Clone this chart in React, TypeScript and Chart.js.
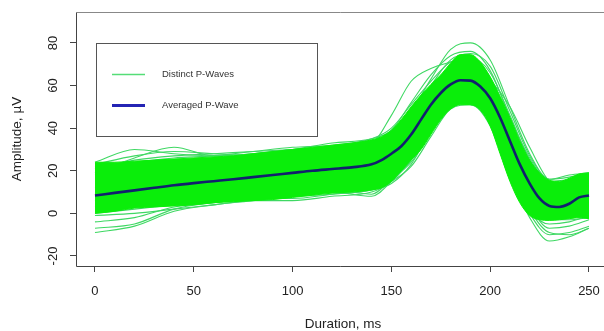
import React, { useEffect, useRef } from "react";
import { Chart, registerables } from "chart.js";

Chart.register(...registerables);

// ---- tick labels ----
const xTicks = [0, 50, 100, 150, 200, 250];
const yTicks = [-20, 0, 20, 40, 60, 80];

// ---- dense band of distinct P-waves (envelope) ----
const envX = [0, 10, 20, 30, 40, 50, 60, 70, 80, 90, 100, 110, 120, 130, 140, 145, 150, 155, 160, 165, 170, 175, 180, 185, 190, 195, 200, 205, 210, 215, 220, 225, 230, 235, 240, 245, 250];
const bandUpper = [24, 24, 24.5, 25, 25.5, 26, 26.5, 27, 28, 29, 30, 31, 32, 33, 34.5, 36, 39, 44, 50, 55.5, 60.5, 65, 70.5, 74.5, 74.5, 71, 64, 55, 45, 34, 25, 19, 15.5, 15, 16.5, 18.5, 19];
const bandLower = [0, 1, 2.5, 3, 3.5, 4, 5, 5.5, 6, 6.5, 7.5, 8.5, 9.5, 10, 11, 12, 15, 20, 25, 30, 37, 44, 49, 51, 51, 48.5, 41, 28, 15, 5, -1, -3, -3.3, -3, -2.5, -2, -2.5];

// ---- averaged P-wave ----
const avgWave = [8.4, 9.6, 10.8, 12, 13.2, 14.2, 15.1, 16, 17, 18, 19, 20, 20.8, 21.6, 23, 25, 28, 31.5, 37, 44, 51, 56.5, 60.5, 62.5, 62.3, 59.5, 54, 45, 34, 23, 14, 7, 3.5, 3, 4.5, 7.5, 8.4];

// ---- individual distinct P-waves (visible outside the dense band) ----
const waveX = [0, 20, 40, 60, 80, 100, 120, 140, 150, 160, 170, 180, 190, 200, 210, 220, 230, 240, 250];
const wave1 = [-9, -6, 1, 4, 6, 8, 10, 8, 15, 25, 40, 51, 53, 45, 20, 0, -10, -9, -6];
const wave2 = [-7, -5, 2, 5, 7, 9, 11, 9, 16, 24, 38, 50, 52, 43, 18, -2, -13, -11, -7];
const wave3 = [-4, -2, 3, 5, 7, 8, 9, 11, 14, 23, 39, 53, 56, 49, 25, 4, -7, -6, -3];
const wave4 = [-1, 0, 2, 4, 6, 6, 8, 10, 15, 26, 44, 56, 57, 47, 23, 2, -5, -4, -1];
const wave5 = [21, 25, 27, 28, 29, 30, 31, 33, 46, 62, 68, 71, 73, 66, 46, 25, 14, 15, 17];
const wave6 = [19, 26, 31, 27, 28, 30, 31, 33, 37, 48, 63, 77, 80, 72, 50, 28, 16, 17, 19];
const wave7 = [24, 30, 28, 27, 28, 30, 33, 35, 39, 52, 65, 74, 76, 67, 45, 26, 15, 16, 18];
const wave8 = [22, 24, 26, 27, 29, 31, 32, 35, 40, 51, 62, 71, 73, 64, 43, 24, 14, 14, 16];
const wave9 = [1, 3, 5, 6, 7, 7, 9, 11, 15, 22, 36, 49, 51, 41, 16, 0, -3, -3, -2];
const wave10 = [18, 21, 23, 24, 25, 27, 29, 31, 35, 44, 57, 67, 69, 59, 37, 18, 11, 13, 16];
const wave11 = [6, 9, 11, 13, 14, 16, 18, 20, 24, 33, 45, 52, 51, 47, 33, 14, 4, 4, 6];
const wave12 = [10, 12, 14, 16, 18, 20, 22, 24, 28, 36, 49, 59, 65, 62, 50, 31, 15, 12, 12];
const wave13 = [0, 2, 4, 6, 8, 9, 10, 12, 16, 26, 41, 53, 56, 47, 24, 2, -9, -10, -7];
const wave14 = [12, 14, 15, 17, 19, 20, 22, 24, 29, 38, 51, 61, 63, 56, 34, 14, 4, 7, 9];
const wave15 = [23, 27, 29, 28, 27, 28, 30, 32, 36, 47, 60, 72, 75, 69, 48, 27, 16, 18, 19];
const wave16 = [3, 6, 8, 9, 8, 9, 11, 13, 17, 27, 42, 55, 58, 52, 29, 8, -1, 0, 2];
const distinctWaves = [wave1, wave2, wave3, wave4, wave5, wave6, wave7, wave8, wave9, wave10, wave11, wave12, wave13, wave14, wave15, wave16];

const legendLabels = ["Distinct P-Waves", "Averaged P-Wave"];
const xTitle = "Duration, ms";
const yTitle = "Amplitude, \u00B5V";

const GREEN_BAND = "#0aee0a";
const GREEN_LINE = "#3fd863";
const BLUE = "#12206e";
const FONT = '"Liberation Sans", Arial, Helvetica, sans-serif';

const toPts = (xs: number[], ys: number[]) => xs.map((x, i) => ({ x, y: ys[i] }));

const decorPlugin = {
  id: "decor",
  afterDraw(chart: any) {
    const { ctx, chartArea: a, scales } = chart;
    ctx.save();
    // box (right side falls outside the picture)
    const L = Math.round(a.left) + 0.5;
    const T = Math.round(a.top) + 0.5;
    const B = Math.round(a.bottom) + 0.5;
    ctx.lineWidth = 1;
    ctx.strokeStyle = "#888";
    ctx.beginPath();
    ctx.moveTo(L, T);
    ctx.lineTo(chart.width, T);
    ctx.stroke();
    ctx.strokeStyle = "#444";
    ctx.beginPath();
    ctx.moveTo(L, T);
    ctx.lineTo(L, B);
    ctx.lineTo(chart.width, B);
    ctx.stroke();

    // tick labels
    ctx.fillStyle = "#222";
    ctx.font = `13px ${FONT}`;
    ctx.textAlign = "center";
    ctx.textBaseline = "middle";
    yTicks.forEach((v) => {
      const y = scales.y.getPixelForValue(v);
      ctx.save();
      ctx.translate(53, y);
      ctx.rotate(-Math.PI / 2);
      ctx.fillText(String(v), 0, 0);
      ctx.restore();
    });
    xTicks.forEach((v) => {
      const x = scales.x.getPixelForValue(v);
      ctx.fillText(String(v), x, 291);
    });

    // axis titles
    ctx.font = `13.5px ${FONT}`;
    ctx.fillText(xTitle, 343, 324);
    ctx.save();
    ctx.translate(17, 139);
    ctx.rotate(-Math.PI / 2);
    ctx.fillText(yTitle, 0, 0);
    ctx.restore();

    // legend
    ctx.fillStyle = "#fff";
    ctx.fillRect(96, 43, 221, 93);
    ctx.strokeStyle = "#555";
    ctx.lineWidth = 1;
    ctx.strokeRect(96.5, 43.5, 221, 93);
    ctx.lineCap = "butt";
    ctx.strokeStyle = "#55dd77";
    ctx.lineWidth = 1.5;
    ctx.beginPath();
    ctx.moveTo(112, 74.5);
    ctx.lineTo(145, 74.5);
    ctx.stroke();
    ctx.strokeStyle = "#2424b4";
    ctx.lineWidth = 3;
    ctx.beginPath();
    ctx.moveTo(112, 105.5);
    ctx.lineTo(145, 105.5);
    ctx.stroke();
    ctx.fillStyle = "#333";
    ctx.font = `9.5px ${FONT}`;
    ctx.textAlign = "left";
    ctx.fillText(legendLabels[0], 162, 74.5);
    ctx.fillText(legendLabels[1], 162, 105.5);
    ctx.restore();
  },
};

export default function App() {
  const ref = useRef<HTMLCanvasElement | null>(null);

  useEffect(() => {
    document.body.style.margin = "0";
    const canvas = ref.current;
    if (!canvas) return;

    const waveSets = distinctWaves.map((w) => ({
      type: "line" as const,
      data: toPts(waveX, w),
      borderColor: GREEN_LINE,
      borderWidth: 1.1,
      pointRadius: 0,
      fill: false,
      cubicInterpolationMode: "monotone" as const,
      order: 3,
    }));

    const chart = new Chart(canvas, {
      type: "line",
      data: {
        datasets: [
          {
            data: toPts(envX, avgWave),
            borderColor: BLUE,
            borderWidth: 2.6,
            pointRadius: 0,
            fill: false,
            cubicInterpolationMode: "monotone",
            order: 0,
          } as any,
          {
            data: toPts(envX, bandUpper),
            borderColor: GREEN_BAND,
            borderWidth: 1,
            backgroundColor: GREEN_BAND,
            pointRadius: 0,
            fill: "+1",
            cubicInterpolationMode: "monotone",
            order: 1,
          } as any,
          {
            data: toPts(envX, bandLower),
            borderColor: GREEN_BAND,
            borderWidth: 1,
            pointRadius: 0,
            fill: false,
            cubicInterpolationMode: "monotone",
            order: 2,
          } as any,
          ...waveSets,
        ],
      },
      options: {
        responsive: false,
        animation: false,
        events: [],
        layout: { padding: { top: 12, right: 0, left: 0, bottom: 0 } },
        plugins: {
          legend: { display: false },
          tooltip: { enabled: false },
          title: { display: false },
        },
        scales: {
          x: {
            type: "linear",
            min: -9.6,
            max: 257.6,
            afterBuildTicks: (axis: any) => {
              axis.ticks = xTicks.map((v) => ({ value: v }));
            },
            afterFit: (axis: any) => {
              axis.height = 65;
            },
            ticks: { display: false },
            grid: { drawOnChartArea: false, drawTicks: true, tickLength: 6, color: "#444", lineWidth: 1 },
            border: { display: false },
          },
          y: {
            type: "linear",
            min: -24.7,
            max: 94.5,
            afterBuildTicks: (axis: any) => {
              axis.ticks = yTicks.map((v) => ({ value: v }));
            },
            afterFit: (axis: any) => {
              axis.width = 76;
            },
            ticks: { display: false },
            grid: { drawOnChartArea: false, drawTicks: true, tickLength: 6, color: "#444", lineWidth: 1 },
            border: { display: false },
          },
        },
      } as any,
      plugins: [decorPlugin],
    });

    return () => chart.destroy();
  }, []);

  return (
    <div style={{ width: 604, height: 331, background: "#fff" }}>
      <canvas ref={ref} width={604} height={331} style={{ display: "block" }} />
    </div>
  );
}
